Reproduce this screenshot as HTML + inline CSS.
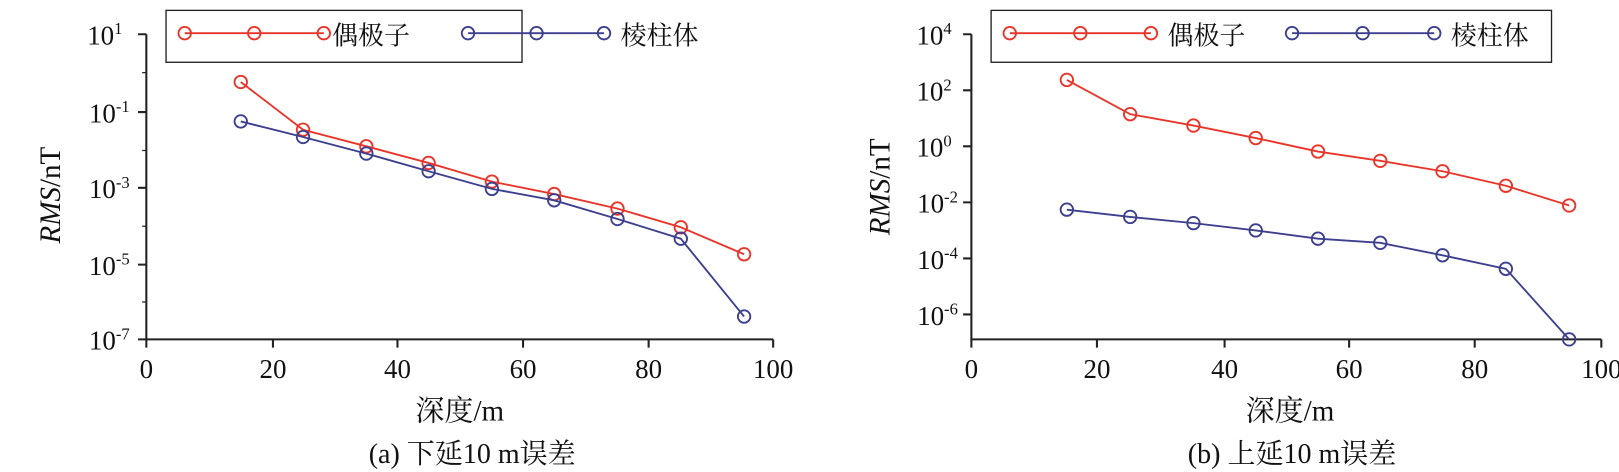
<!DOCTYPE html>
<html><head><meta charset="utf-8"><style>
html,body{margin:0;padding:0;background:#fff}
svg{display:block}
text{font-family:"Liberation Serif","Noto Serif CJK SC","Noto Sans CJK SC",serif;fill:#111}
</style></head><body>
<svg width="1619" height="472" viewBox="0 0 1619 472" xmlns="http://www.w3.org/2000/svg">
<g transform="scale(1.0378)">
<g stroke="#222" stroke-width="2" fill="none">
<path d="M141 33 V327 H745"/>
<path d="M133 33H141 M133 108H141 M133 181H141 M133 255H141 M133 327H141"/>
<path d="M137 70H141 M137 145H141 M137 218H141 M137 291H141" stroke-width="1.2"/>
<path d="M141 327v8 M263 327v8 M383 327v8 M504 327v8 M625 327v8 M745 327v8"/>
<path d="M936 33 V327 H1543"/>
<path d="M928 33H936 M928 87H936 M928 141H936 M928 195H936 M928 249H936 M928 303H936"/>
<path d="M936 327v8 M1057 327v8 M1180 327v8 M1300 327v8 M1421 327v8 M1543 327v8"/>
</g>
<g font-size="26" text-anchor="end">
<text x="118" y="43">10<tspan font-size="16" dy="-10">1</tspan></text>
<text x="125" y="118">10<tspan font-size="16" dy="-10">-1</tspan></text>
<text x="125" y="191">10<tspan font-size="16" dy="-10">-3</tspan></text>
<text x="125" y="265">10<tspan font-size="16" dy="-10">-5</tspan></text>
<text x="125" y="337">10<tspan font-size="16" dy="-10">-7</tspan></text>
<text x="917" y="43">10<tspan font-size="16" dy="-10">4</tspan></text>
<text x="917" y="97">10<tspan font-size="16" dy="-10">2</tspan></text>
<text x="917" y="151">10<tspan font-size="16" dy="-10">0</tspan></text>
<text x="923" y="205">10<tspan font-size="16" dy="-10">-2</tspan></text>
<text x="923" y="259">10<tspan font-size="16" dy="-10">-4</tspan></text>
<text x="923" y="313">10<tspan font-size="16" dy="-10">-6</tspan></text>
</g>
<g font-size="26" text-anchor="middle">
<text x="141" y="364">0</text><text x="263" y="364">20</text><text x="383" y="364">40</text><text x="504" y="364">60</text><text x="625" y="364">80</text><text x="745" y="364">100</text>
<text x="936" y="364">0</text><text x="1057" y="364">20</text><text x="1180" y="364">40</text><text x="1300" y="364">60</text><text x="1421" y="364">80</text><text x="1543" y="364">100</text>
</g>
<g font-size="28" text-anchor="middle">
<text x="443" y="405">深度/m</text>
<text x="1243" y="405">深度/m</text>
<text transform="translate(58,188) rotate(-90)"><tspan font-style="italic">RMS</tspan>/nT</text>
<text transform="translate(857,180) rotate(-90)"><tspan font-style="italic">RMS</tspan>/nT</text>
</g>
<g font-size="27" text-anchor="middle">
<text x="455" y="446">(a) 下延10 m误差</text>
<text x="1245" y="446">(b) 上延10 m误差</text>
</g>
<rect x="160" y="10" width="343" height="50" fill="none" stroke="#222" stroke-width="1.3"/>
<rect x="955" y="10" width="540" height="50" fill="none" stroke="#222" stroke-width="1.3"/>
<g font-size="25">
<text x="320" y="43">偶极子</text><text x="598" y="43">棱柱体</text>
<text x="1125" y="43">偶极子</text><text x="1398" y="43">棱柱体</text>
</g>
<g fill="none" stroke-width="1.8">
<g stroke="#e8352a">
<path d="M178 32H312"/><circle cx="178" cy="32" r="6"/><circle cx="245" cy="32" r="6"/><circle cx="312" cy="32" r="6"/>
<path d="M973 32H1109"/><circle cx="973" cy="32" r="6"/><circle cx="1041" cy="32" r="6"/><circle cx="1109" cy="32" r="6"/>
<polyline points="232,79 292,125 353,141 413,157 474,175 534,187 595,201 656,219 717,245"/>
<g><circle cx="232" cy="79" r="6"/><circle cx="292" cy="125" r="6"/><circle cx="353" cy="141" r="6"/><circle cx="413" cy="157" r="6"/><circle cx="474" cy="175" r="6"/><circle cx="534" cy="187" r="6"/><circle cx="595" cy="201" r="6"/><circle cx="656" cy="219" r="6"/><circle cx="717" cy="245" r="6"/></g>
<polyline points="1028,77 1089,110 1150,121 1210,133 1270,146 1330,155 1390,165 1451,179 1512,198"/>
<g><circle cx="1028" cy="77" r="6"/><circle cx="1089" cy="110" r="6"/><circle cx="1150" cy="121" r="6"/><circle cx="1210" cy="133" r="6"/><circle cx="1270" cy="146" r="6"/><circle cx="1330" cy="155" r="6"/><circle cx="1390" cy="165" r="6"/><circle cx="1451" cy="179" r="6"/><circle cx="1512" cy="198" r="6"/></g>
</g>
<g stroke="#3d3f8f">
<path d="M451 32H582"/><circle cx="451" cy="32" r="6"/><circle cx="517" cy="32" r="6"/><circle cx="582" cy="32" r="6"/>
<path d="M1245 32H1382"/><circle cx="1245" cy="32" r="6"/><circle cx="1313" cy="32" r="6"/><circle cx="1382" cy="32" r="6"/>
<polyline points="232,117 292,132 353,148 413,165 474,182 534,193 595,211 656,230 717,305"/>
<g><circle cx="232" cy="117" r="6"/><circle cx="292" cy="132" r="6"/><circle cx="353" cy="148" r="6"/><circle cx="413" cy="165" r="6"/><circle cx="474" cy="182" r="6"/><circle cx="534" cy="193" r="6"/><circle cx="595" cy="211" r="6"/><circle cx="656" cy="230" r="6"/><circle cx="717" cy="305" r="6"/></g>
<polyline points="1028,202 1089,209 1150,215 1210,222 1270,230 1330,234 1390,246 1451,259 1512,327"/>
<g><circle cx="1028" cy="202" r="6"/><circle cx="1089" cy="209" r="6"/><circle cx="1150" cy="215" r="6"/><circle cx="1210" cy="222" r="6"/><circle cx="1270" cy="230" r="6"/><circle cx="1330" cy="234" r="6"/><circle cx="1390" cy="246" r="6"/><circle cx="1451" cy="259" r="6"/><circle cx="1512" cy="327" r="6"/></g>
</g>
</g>
</g>
</svg>
</body></html>
